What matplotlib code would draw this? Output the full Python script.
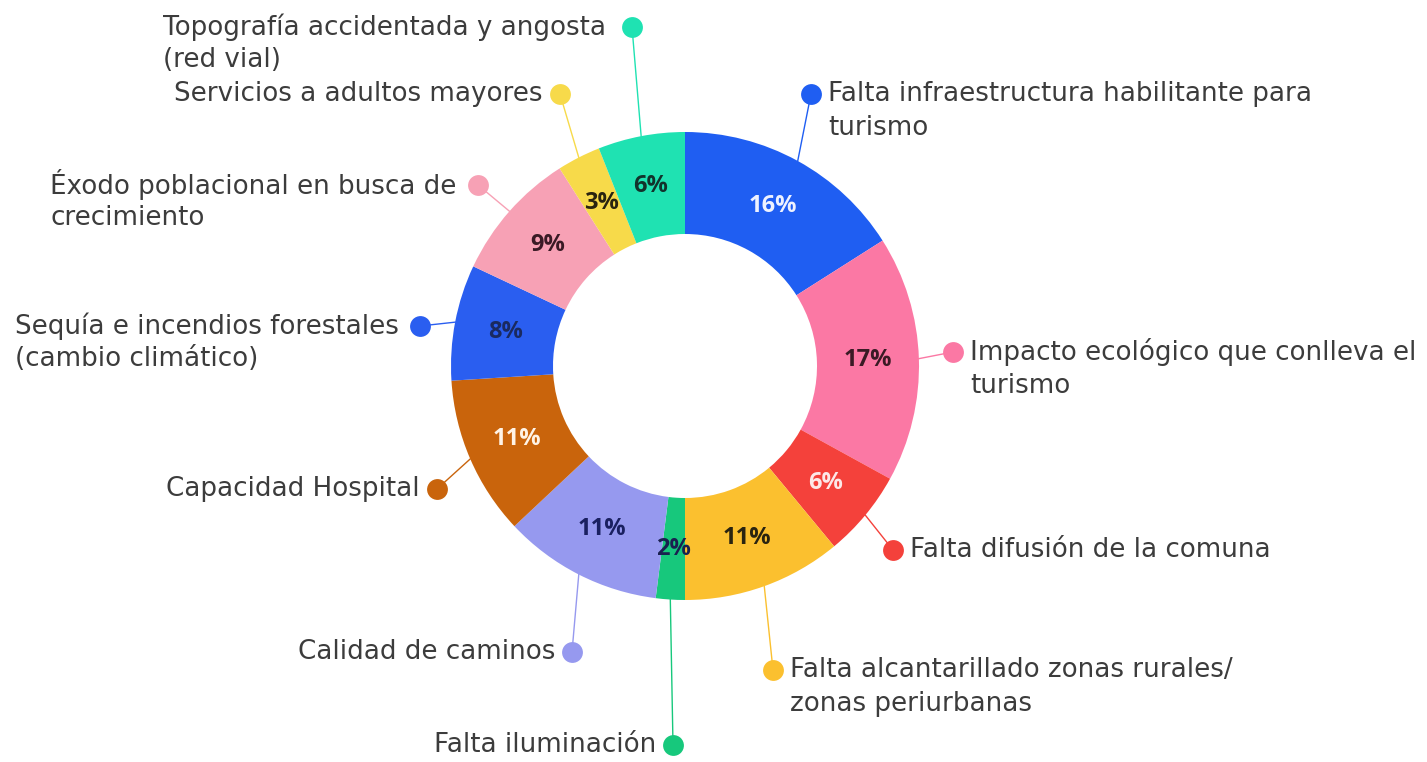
import numpy as np
import matplotlib
matplotlib.use("Agg")
import matplotlib.pyplot as plt

plt.rcParams['font.family'] = ['DejaVu Sans']

# shares in percent, clockwise from 12 o'clock
categorias = [
    "Falta infraestructura habilitante para\nturismo",
    "Impacto ecológico que conlleva el\nturismo",
    "Falta difusión de la comuna",
    "Falta alcantarillado zonas rurales/\nzonas periurbanas",
    "Falta iluminación",
    "Calidad de caminos",
    "Capacidad Hospital",
    "Sequía e incendios forestales\n(cambio climático)",
    "Éxodo poblacional en busca de\ncrecimiento",
    "Servicios a adultos mayores",
    "Topografía accidentada y angosta\n(red vial)",
]
valores = [16, 17, 6, 11, 2, 11, 11, 8, 9, 3, 6]
colores = ["#1f5ef2", "#fb78a4", "#f4413b", "#fbc02f", "#17c87c", "#9699ef",
           "#c9640c", "#2a5ef0", "#f7a1b5", "#f7da4a", "#1fe2b2"]
color_pct = ["#eef2ff", "#3a1a25", "#fde8e8", "#2a2410", "#1a2050", "#1a2060",
             "#fff3e6", "#1a2a60", "#3a1a25", "#2a2410", "#12332c"]

# dot position (px from top-left) and side of the text
puntos = [(811, 94, "r"), (953, 352, "r"), (893, 550, "r"), (773, 670, "r"),
          (673, 745, "l"), (572, 652, "l"), (437, 489, "l"), (420, 326, "l"),
          (478, 185, "l"), (560, 94, "l"), (632, 27, "l")]
# left edge of the multi-line left-side labels
x_izq = {7: 15, 8: 50, 10: 163}

W, H = 1427, 762
fig = plt.figure(figsize=(W / 100, H / 100), dpi=100)
ax = fig.add_axes([0, 0, 1, 1])

cx, cy, R, ancho = 685, H - 366, 234, 102
wedges, _ = ax.pie(valores, colors=colores, startangle=90, counterclock=False,
                   radius=R, center=(cx, cy), frame=True,
                   wedgeprops=dict(width=ancho, linewidth=0))
ax.set_xlim(0, W)
ax.set_ylim(0, H)
ax.axis("off")

texto = "#3c3c3c"
fs = 18.8
for i, w in enumerate(wedges):
    ang = np.deg2rad((w.theta1 + w.theta2) / 2)
    rm = R - ancho / 2
    ax.text(cx + rm * np.cos(ang), cy + rm * np.sin(ang), f"{valores[i]}%",
            ha="center", va="center", fontsize=17, fontweight="bold",
            family="Open Sans", color=color_pct[i])

    px, py, lado = puntos[i]
    py = H - py
    x0, y0 = cx + R * np.cos(ang), cy + R * np.sin(ang)
    ax.plot([x0, px], [y0, py], color=colores[i], lw=1, zorder=1)
    ax.plot(px, py, "o", ms=15, color=colores[i], mec="none", zorder=3)

    lineas = categorias[i].split("\n")
    if lado == "r":
        for k, ln in enumerate(lineas):
            ax.text(px + 17, py - 34 * k, ln, ha="left", va="center",
                    fontsize=fs, color=texto)
    elif i in x_izq:
        for k, ln in enumerate(lineas):
            ax.text(x_izq[i], py - 33 * k, ln, ha="left", va="center",
                    fontsize=fs, color=texto)
    else:
        ax.text(px - 17, py, lineas[0], ha="right", va="center",
                fontsize=fs, color=texto)

fig.savefig("out.png", dpi=100, facecolor="white")
